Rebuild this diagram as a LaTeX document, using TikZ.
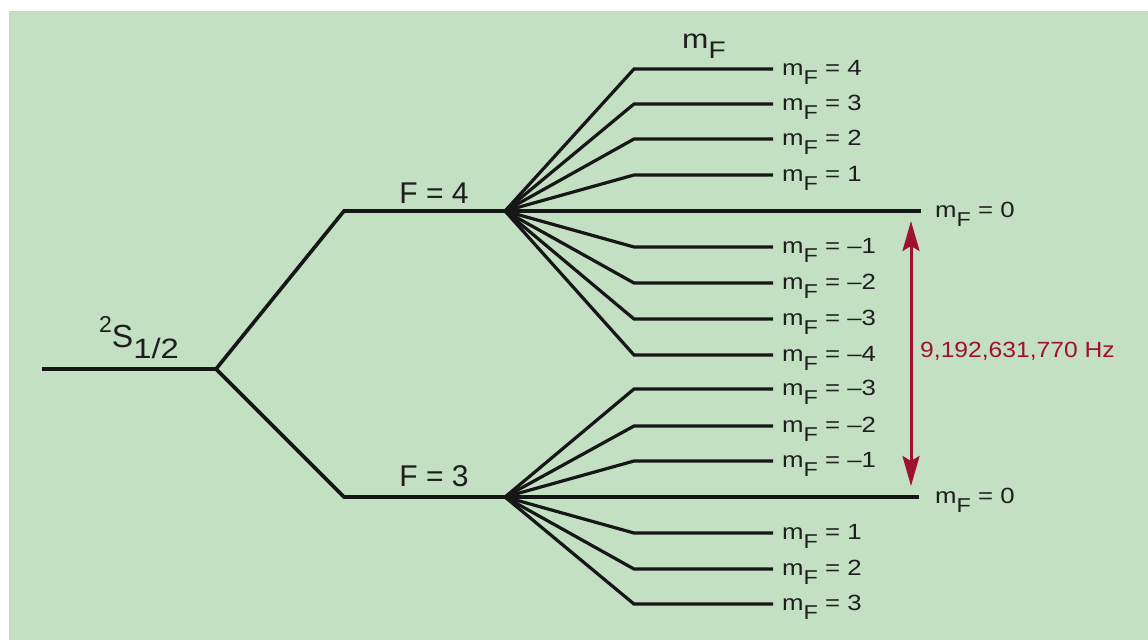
\documentclass[tikz,border=0pt]{standalone}
\usepackage{fontspec}
\setmainfont{Liberation Sans}
\newfontfamily\wfont[FakeStretch=1.17]{Liberation Sans}
\newfontfamily\hzfont[FakeStretch=1.12]{Liberation Sans}
\usetikzlibrary{arrows.meta}
\definecolor{bg}{RGB}{195,224,194}
\definecolor{ink}{RGB}{22,22,22}
\definecolor{txt}{RGB}{30,30,30}
\definecolor{hzred}{RGB}{160,16,48}
\newcommand\mFlab[1]{{\wfont\fontsize{22}{26}\selectfont m\raisebox{-9pt}{\fontsize{20}{22}\selectfont F} = #1}}
\tikzset{
  level/.style={draw=ink, line width=3.6pt, line join=miter},
  fan/.style={draw=ink, line width=3.2pt, line join=miter},
  mlab/.style={anchor=base west, inner sep=0pt, text=txt},
  flab/.style={anchor=base, inner sep=0pt, text=txt, font=\fontsize{30}{34}\selectfont},
  hzarrow/.style={draw=hzred, line width=3pt,
    {Stealth[length=30pt,width=17pt,inset=5pt]}-{Stealth[length=30pt,width=17pt,inset=5pt]}}
}
\begin{document}
\begin{tikzpicture}[x=1pt,y=-1pt]
\useasboundingbox (0,0) rectangle (1148,640);
\fill[bg] (9,11) rectangle (1148,640);
% ground level and hyperfine levels
\coordinate (g0) at (42,369);
\coordinate (g1) at (216,369);
\coordinate (a4) at (344,211);
\coordinate (f4) at (505,211);
\coordinate (a3) at (344,497);
\coordinate (f3) at (505,497);
\draw[level] (g0) -- (g1) -- (a4) -- (f4);
\draw[level] (g1) -- (a3) -- (f3);
\node[anchor=base west, inner sep=0pt, text=txt] (sterm) at (99,347)
  {\raisebox{15pt}{\fontsize{23}{26}\selectfont 2}\fontsize{32}{36}\selectfont S\raisebox{-11pt}{\wfont\fontsize{28}{30}\selectfont 1/2}};
\node[flab] (F4) at (434,203) {F = 4};
\node[flab] (F3) at (434,486) {F = 3};
% header
\node[anchor=base west, inner sep=0pt, text=txt] (hdr) at (682,48)
  {\wfont\fontsize{27}{30}\selectfont m\raisebox{-10pt}{\fontsize{24}{26}\selectfont F}};
% F = 4 Zeeman sublevels
\foreach \n/\y/\t in {p4/69/4, p3/104/3, p2/139/2, p1/175/1, m1/247/{–1}, m2/283/{–2}, m3/319/{–3}, m4/355/{–4}} {
  \coordinate (uk\n) at (634,\y);
  \coordinate (ue\n) at (773,\y);
  \draw[fan] (f4) -- (uk\n) -- (ue\n);
  \node[mlab] (ul\n) at (782,\y+6) {\mFlab{\t}};
}
\coordinate (ue0) at (921,211);
\draw[fan] (f4) -- (ue0);
\node[mlab] (ul0) at (935,217) {\mFlab{0}};
% F = 3 Zeeman sublevels
\foreach \n/\y/\t in {m3/389/{–3}, m2/426/{–2}, m1/461/{–1}, p1/533/1, p2/569/2, p3/604/3} {
  \coordinate (lk\n) at (634,\y);
  \coordinate (le\n) at (773,\y);
  \draw[fan] (f3) -- (lk\n) -- (le\n);
  \node[mlab] (ll\n) at (782,\y+6) {\mFlab{\t}};
}
\coordinate (le0) at (919,497);
\draw[fan] (f3) -- (le0);
\node[mlab] (ll0) at (935,503) {\mFlab{0}};
% clock transition
\coordinate (ar1) at (911,221);
\coordinate (ar2) at (911,486);
\draw[hzarrow] (ar1) -- (ar2);
\node[anchor=base west, inner sep=0pt, text=hzred] (hz) at (920,357)
  {\hzfont\fontsize{22}{25}\selectfont 9,192,631,770 Hz};
\end{tikzpicture}
\end{document}
